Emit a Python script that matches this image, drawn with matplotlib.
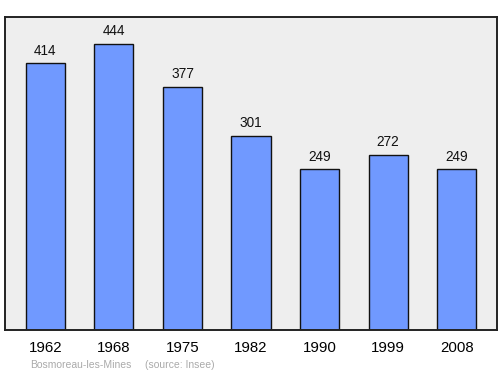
import matplotlib.pyplot as plt

plt.rcParams["font.family"] = ["Liberation Sans", "DejaVu Sans"]

years = ["1962", "1968", "1975", "1982", "1990", "1999", "2008"]
population = [414, 444, 377, 301, 249, 272, 249]
commune = "Bosmoreau-les-Mines"
source = "(source: Insee)"

fig = plt.figure(figsize=(5, 3.74), dpi=100)
ax = fig.add_axes([0.01, 0.118, 0.984, 0.837])
ax.set_facecolor("#eeeeee")

x = range(len(years))
bars = ax.bar(x, population, width=0.57, color="#7099ff", edgecolor="#111111", linewidth=1)
for xi, v in zip(x, population):
    ax.annotate(str(v), (xi, v), xytext=(0, 4), textcoords="offset points",
                ha="center", va="bottom", fontsize=9.8, color="#111111")

ax.set_xlim(-0.59, 6.59)
ax.set_ylim(0, 486)
ax.set_yticks([])
ax.set_xticks(list(x))
ax.set_xticklabels(years, fontsize=10.8)
ax.tick_params(axis="x", length=0, pad=8)
for s in ax.spines.values():
    s.set_linewidth(1.4)
    s.set_color("#222222")

fig.text(30 / 500, 1 - 365 / 374, commune, fontsize=7.5, color="#aaaaaa", va="center")
fig.text(145 / 500, 1 - 365 / 374, source, fontsize=7.5, color="#aaaaaa", va="center")

fig.savefig("out.png", dpi=100)
